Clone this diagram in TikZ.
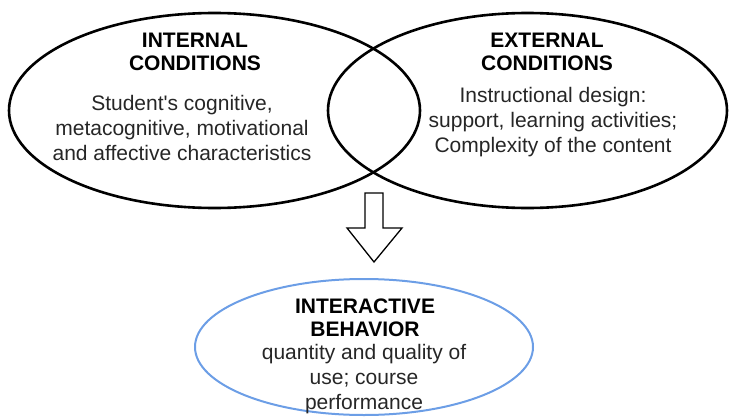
\documentclass[tikz,border=0pt]{standalone}
\usepackage{fontspec}
\setmainfont{Liberation Sans}[Ligatures=TeXOff]
\usetikzlibrary{shapes.geometric,calc}
\definecolor{bodytxt}{HTML}{262626}
\definecolor{blueedge}{HTML}{6C9EE6}
\tikzset{
  oval/.style={ellipse, draw=black, line width=2.6pt, inner sep=0pt},
  heading/.style={align=center, font=\fontsize{21}{23}\selectfont\bfseries, text=black},
  bodytext/.style={align=center, font=\fontsize{21}{25}\selectfont, text=bodytxt},
}
\begin{document}
\begin{tikzpicture}[x=1pt,y=1pt]
\useasboundingbox (0,0) rectangle (730,416);
\node[oval, minimum width=411pt, minimum height=195pt] (internal) at (214.5,305.5) {};
\node[oval, minimum width=399pt, minimum height=195pt] (external) at (527.5,305.5) {};
\node[ellipse, draw=blueedge, line width=2pt, inner sep=0pt, minimum width=338pt, minimum height=136pt] (behav) at (364,69) {};

\node[heading] (inthead) at (195,364.5) {INTERNAL\\CONDITIONS};
\node[bodytext] (intbody) at (182,288) {Student's cognitive,\\metacognitive, motivational\\and affective characteristics};
\node[heading] (exthead) at (547,364.5) {EXTERNAL\\CONDITIONS};
\node[bodytext] (extbody) at (553,294) {Instructional design:\\support, learning activities;\\Complexity of the content};
\node[heading] (behhead) at (365,98.5) {INTERACTIVE\\BEHAVIOR};
\node[bodytext] (behbody) at (364,37) {quantity and quality of\\use; course\\performance};

\coordinate (arrtop) at (374,223);
\coordinate (arrtip) at (374,154);
\draw[line width=1.3pt, fill=white, line join=miter]
  ($(arrtop)+(-9,0)$) -- ($(arrtop)+(9,0)$) -- ($(arrtop)+(9,-35)$) -- ($(arrtop)+(28,-35)$)
  -- (arrtip) -- ($(arrtop)+(-27,-35)$) -- ($(arrtop)+(-9,-35)$) -- cycle;
\end{tikzpicture}
\end{document}
